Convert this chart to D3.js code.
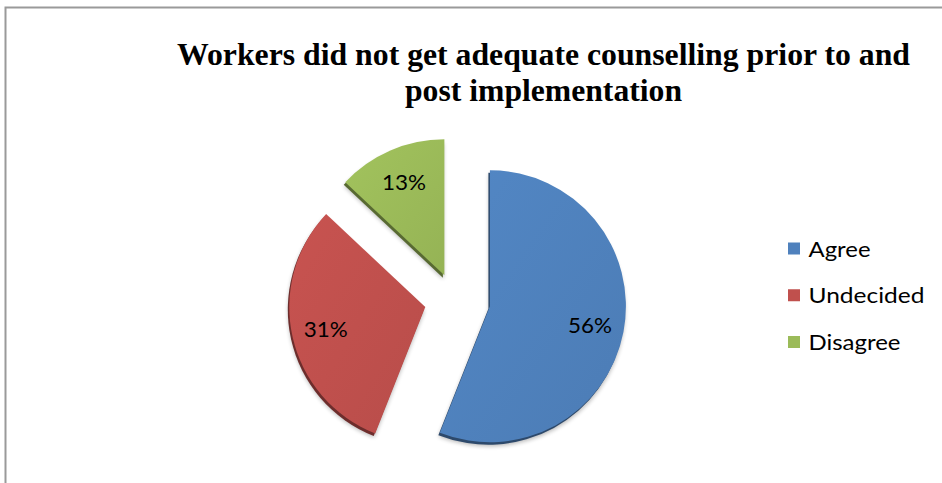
<!DOCTYPE html>
<html>
<head>
<meta charset="utf-8">
<script src="https://cdn.jsdelivr.net/npm/d3@7"></script>
<style>
  html, body { margin: 0; padding: 0; background: #ffffff; }
  svg { display: block; }
</style>
</head>
<body>
<svg id="chart" width="942" height="483"></svg>
<script>
// Survey responses
const categories = ["Agree", "Undecided", "Disagree"];
const values = [56, 31, 13];
const valueLabels = ["56%", "31%", "13%"];
const colors = ["#4F81BD", "#C0504D", "#9BBB59"];
const titleLines = [
  "Workers did not get adequate counselling prior to and",
  "post implementation"
];

const svg = d3.select("#chart");
const W = 942, H = 483;

// chart frame (extends beyond the right and bottom edges)
svg.append("path")
  .attr("d", `M5.5,${H + 5} L5.5,7.5 L${W + 5},7.5`)
  .attr("fill", "none")
  .attr("stroke", "#9a9a9a")
  .attr("stroke-width", 2);

// title
const title = svg.append("g")
  .attr("font-family", "'Liberation Serif', 'Times New Roman', serif")
  .attr("font-weight", "bold")
  .attr("font-size", 32)
  .attr("fill", "#000");
const titleSpec = [
  { y: 65, len: 733 },
  { y: 101, len: 277 }
];
titleLines.forEach((t, i) => {
  title.append("text")
    .attr("x", 543.5)
    .attr("y", titleSpec[i].y)
    .attr("text-anchor", "middle")
    .attr("textLength", titleSpec[i].len)
    .attr("lengthAdjust", "spacingAndGlyphs")
    .text(t);
});

// pie
const cx = 457.5, cy = 301, radius = 136, explode = 33, tilt = 0.85;
const pie = d3.pie().sort(null).value(d => d).startAngle(0).endAngle(2 * Math.PI);
const arcs = pie(values);
const arc = d3.arc().innerRadius(0).outerRadius(radius);

const defs = svg.append("defs");
defs.append("filter").attr("id", "soft")
  .attr("x", "-20%").attr("y", "-20%").attr("width", "140%").attr("height", "140%")
  .append("feGaussianBlur").attr("stdDeviation", 2.2);

arcs.forEach((a, i) => {
  const g = defs.append("linearGradient")
    .attr("id", "grad" + i)
    .attr("x1", "0").attr("y1", "0").attr("x2", "1").attr("y2", "1");
  const c = d3.color(colors[i]);
  g.append("stop").attr("offset", "0%").attr("stop-color", c.brighter(0.12));
  g.append("stop").attr("offset", "100%").attr("stop-color", c.darker(0.12));
});

const pieG = svg.append("g").attr("transform", `translate(${cx},${cy})`);

const slices = pieG.selectAll("g.slice")
  .data(arcs)
  .join("g")
  .attr("class", "slice")
  .attr("transform", d => {
    const mid = (d.startAngle + d.endAngle) / 2;
    return `translate(${explode * Math.sin(mid)},${-explode * Math.cos(mid) * tilt})`;
  });

// soft shadow
slices.append("path")
  .attr("d", arc)
  .attr("transform", "translate(-1,4)")
  .attr("fill", "#000")
  .attr("opacity", 0.28)
  .attr("filter", "url(#soft)");

// slice thickness edge
slices.append("path")
  .attr("d", arc)
  .attr("transform", "translate(-1.5,2.5)")
  .attr("fill", (d, i) => d3.color(colors[i]).darker(1.6));

// slice face
slices.append("path")
  .attr("d", arc)
  .attr("fill", (d, i) => `url(#grad${i})`);

// value labels
const labelArc = d3.arc().innerRadius(radius * 0.75).outerRadius(radius * 0.75);
slices.append("text")
  .attr("x", d => labelArc.centroid(d)[0])
  .attr("y", d => labelArc.centroid(d)[1])
  .attr("dy", "0.36em")
  .attr("text-anchor", "middle")
  .attr("font-family", "Lato, 'Open Sans', sans-serif")
  .attr("font-size", 22)
  .attr("fill", "#000")
  .attr("textLength", 44)
  .attr("lengthAdjust", "spacingAndGlyphs")
  .text((d, i) => valueLabels[i]);

// legend
const legendY = d3.scalePoint().domain(categories).range([248.5, 342]);
const legend = svg.append("g");
const legendLens = [62, 116, 92];
categories.forEach((c, i) => {
  legend.append("rect")
    .attr("x", 788)
    .attr("y", legendY(c) - 6)
    .attr("width", 12)
    .attr("height", 12)
    .attr("fill", colors[i]);
  legend.append("text")
    .attr("x", 808.5)
    .attr("y", legendY(c) + 8)
    .attr("font-family", "Lato, 'Open Sans', sans-serif")
    .attr("font-size", 21)
    .attr("fill", "#000")
    .attr("textLength", legendLens[i])
    .attr("lengthAdjust", "spacingAndGlyphs")
    .text(c);
});
</script>
</body>
</html>
